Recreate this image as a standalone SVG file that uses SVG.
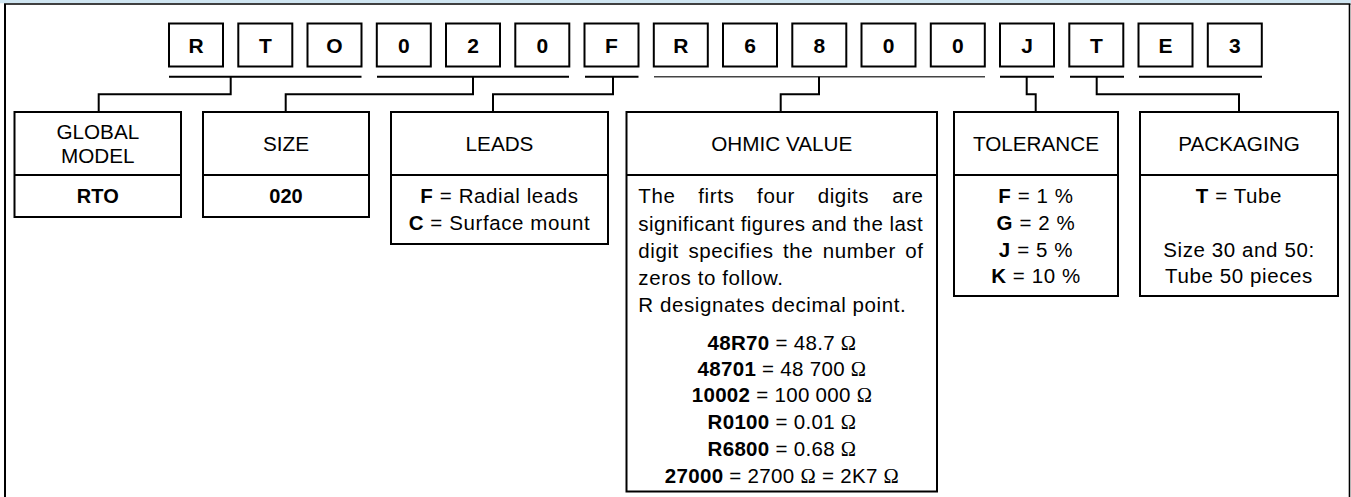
<svg xmlns="http://www.w3.org/2000/svg" width="1351" height="497" viewBox="0 0 1351 497">
<style>
  text { font-family: "Liberation Sans", Arial, Helvetica, sans-serif; font-size: 20.5px; letter-spacing: 0.6px; fill: #000; }
  .h { font-size: 20.7px; letter-spacing: 0; text-anchor: middle; }
  .v { font-size: 20px; letter-spacing: 0; font-weight: bold; text-anchor: middle; }
  .c { text-anchor: middle; }
  .e { text-anchor: end; }
  .b { font-weight: bold; }
  .o { text-anchor: middle; letter-spacing: 0.3px; }
  .L { font-weight: bold; font-size: 21px; letter-spacing: 0; text-anchor: middle; }
  .om { font-family: "Liberation Serif", "Times New Roman", serif; }
  .box { fill: #fff; stroke: #000; stroke-width: 2; }
  .ln { fill: none; stroke: #000; stroke-width: 2; }
</style>
<rect x="0" y="0" width="1351" height="3.2" fill="#cfe5f1"/>
<g id="frame" class="ln">
  <line x1="4" y1="4" x2="1350.5" y2="4" stroke-width="1.6"/>
  <line x1="5" y1="4" x2="5" y2="497"/>
  <line x1="1349.5" y1="4" x2="1349.5" y2="497" stroke-width="1.6"/>
</g>
<g id="code">
  <g class="box">
    <rect x="169" y="23.5" width="54" height="43"/>
    <rect x="238.3" y="23.5" width="54" height="43"/>
    <rect x="307.5" y="23.5" width="54" height="43"/>
    <rect x="376.8" y="23.5" width="54" height="43"/>
    <rect x="446" y="23.5" width="54" height="43"/>
    <rect x="515.3" y="23.5" width="54" height="43"/>
    <rect x="584.5" y="23.5" width="54" height="43"/>
    <rect x="653.8" y="23.5" width="54" height="43"/>
    <rect x="723" y="23.5" width="54" height="43"/>
    <rect x="792.3" y="23.5" width="54" height="43"/>
    <rect x="861.5" y="23.5" width="54" height="43"/>
    <rect x="930.8" y="23.5" width="54" height="43"/>
    <rect x="1000" y="23.5" width="54" height="43"/>
    <rect x="1069.3" y="23.5" width="54" height="43"/>
    <rect x="1138.5" y="23.5" width="54" height="43"/>
    <rect x="1207.8" y="23.5" width="54" height="43"/>
  </g>
  <text class="L" x="196" y="53">R</text>
  <text class="L" x="265.3" y="53">T</text>
  <text class="L" x="334.5" y="53">O</text>
  <text class="L" x="403.8" y="53">0</text>
  <text class="L" x="473" y="53">2</text>
  <text class="L" x="542.3" y="53">0</text>
  <text class="L" x="611.5" y="53">F</text>
  <text class="L" x="680.8" y="53">R</text>
  <text class="L" x="750" y="53">6</text>
  <text class="L" x="819.3" y="53">8</text>
  <text class="L" x="888.5" y="53">0</text>
  <text class="L" x="957.8" y="53">0</text>
  <text class="L" x="1027" y="53">J</text>
  <text class="L" x="1096.3" y="53">T</text>
  <text class="L" x="1165.5" y="53">E</text>
  <text class="L" x="1234.8" y="53">3</text>
</g>
<g id="connectors" class="ln">
  <line x1="169" y1="76.7" x2="361.5" y2="76.7"/>
  <line x1="377" y1="76.7" x2="569" y2="76.7"/>
  <line x1="585" y1="76.7" x2="638.5" y2="76.7"/>
  <line x1="654" y1="76.7" x2="985" y2="76.7" stroke="#444" stroke-width="1.6"/>
  <line x1="1000" y1="76.7" x2="1054" y2="76.7"/>
  <line x1="1070" y1="76.7" x2="1124" y2="76.7"/>
  <line x1="1139" y1="76.7" x2="1262" y2="76.7"/>
  <path d="M230.7,76.7 V94.3 H98.7 V112"/>
  <path d="M473,76.7 V94.3 H285.7 V112"/>
  <path d="M613,76.7 V94.3 H493 V112"/>
  <path d="M819,76.7 V94.3 H780.7 V112"/>
  <path d="M1026.7,76.7 V94.3 H1035.7 V112"/>
  <path d="M1096.7,76.7 V94.3 H1239 V112"/>
</g>
<g id="global-model">
  <rect class="box" x="14.5" y="112" width="166.5" height="105"/>
  <line class="ln" x1="14.5" y1="175" x2="181" y2="175"/>
  <text class="h" x="97.8" y="139">GLOBAL</text>
  <text class="h" x="97.8" y="163">MODEL</text>
  <text class="v" x="97.8" y="203">RTO</text>
</g>
<g id="size">
  <rect class="box" x="203" y="112" width="166" height="105"/>
  <line class="ln" x1="203" y1="175" x2="369" y2="175"/>
  <text class="h" x="286" y="151">SIZE</text>
  <text class="v" x="286" y="203">020</text>
</g>
<g id="leads">
  <rect class="box" x="391" y="112" width="217" height="132"/>
  <line class="ln" x1="391" y1="175" x2="608" y2="175"/>
  <text class="h" x="499.5" y="151">LEADS</text>
  <text class="c" x="499.5" y="203"><tspan class="b">F</tspan> = Radial leads</text>
  <text class="c" x="499.5" y="230"><tspan class="b">C</tspan> = Surface mount</text>
</g>
<g id="ohmic-value">
  <rect class="box" x="626.5" y="112" width="310.5" height="379.5"/>
  <line class="ln" x1="626.5" y1="175" x2="937" y2="175"/>
  <text class="h" x="781.7" y="151">OHMIC VALUE</text>
  <text x="638.3" y="203.3">The</text>
  <text x="698.3" y="203.3">firts</text>
  <text x="757.1" y="203.3">four</text>
  <text x="817.7" y="203.3">digits</text>
  <text class="e" x="923.6" y="203.3">are</text>
  <text x="638.3" y="230.7" textLength="285" lengthAdjust="spacing">significant figures and the last</text>
  <text x="638.3" y="258">digit</text>
  <text x="688.4" y="258">specifies</text>
  <text x="783" y="258">the</text>
  <text x="822.8" y="258">number</text>
  <text class="e" x="923.6" y="258">of</text>
  <text x="638.3" y="285">zeros to follow.</text>
  <text x="638.3" y="311.7">R designates decimal point.</text>
  <text class="o" x="782" y="349.5"><tspan class="b">48R70</tspan> = 48.7 <tspan class="om">Ω</tspan></text>
  <text class="o" x="782" y="375.5"><tspan class="b">48701</tspan> = 48 700 <tspan class="om">Ω</tspan></text>
  <text class="o" x="782" y="402"><tspan class="b">10002</tspan> = 100 000 <tspan class="om">Ω</tspan></text>
  <text class="o" x="782" y="429"><tspan class="b">R0100</tspan> = 0.01 <tspan class="om">Ω</tspan></text>
  <text class="o" x="782" y="456"><tspan class="b">R6800</tspan> = 0.68 <tspan class="om">Ω</tspan></text>
  <text class="o" x="782" y="482.5"><tspan class="b">27000</tspan> = 2700 <tspan class="om">Ω</tspan> = 2K7 <tspan class="om">Ω</tspan></text>
</g>
<g id="tolerance">
  <rect class="box" x="954" y="112" width="164" height="184"/>
  <line class="ln" x1="954" y1="175" x2="1118" y2="175"/>
  <text class="h" x="1036" y="151">TOLERANCE</text>
  <text class="c" x="1036" y="203"><tspan class="b">F</tspan> = 1 %</text>
  <text class="c" x="1036" y="230"><tspan class="b">G</tspan> = 2 %</text>
  <text class="c" x="1036" y="256.5"><tspan class="b">J</tspan> = 5 %</text>
  <text class="c" x="1036" y="283"><tspan class="b">K</tspan> = 10 %</text>
</g>
<g id="packaging">
  <rect class="box" x="1140" y="112" width="198" height="184"/>
  <line class="ln" x1="1140" y1="175" x2="1338" y2="175"/>
  <text class="h" x="1239" y="151">PACKAGING</text>
  <text class="c" x="1239" y="203"><tspan class="b">T</tspan> = Tube</text>
  <text class="c" x="1239" y="256.5">Size 30 and 50:</text>
  <text class="c" x="1239" y="283">Tube 50 pieces</text>
</g>
</svg>
